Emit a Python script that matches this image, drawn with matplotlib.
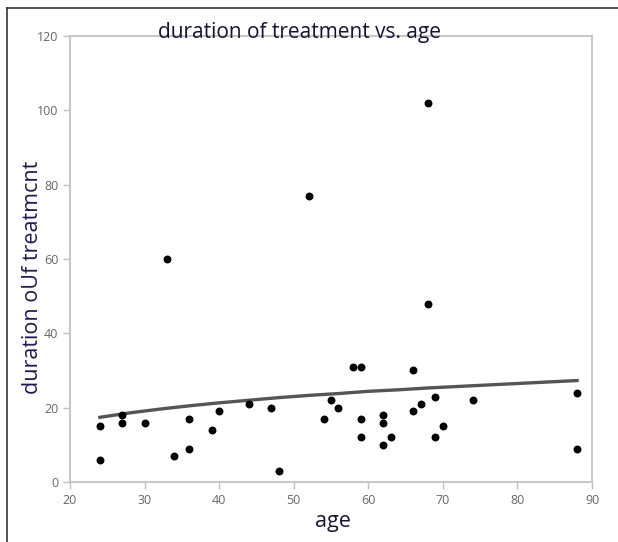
import numpy as np
import matplotlib.pyplot as plt
from matplotlib.lines import Line2D

# Data
age = [24, 24, 27, 27, 30, 33, 34, 36, 36, 39, 40, 44, 47, 48, 52, 54, 55, 56,
       58, 59, 59, 59, 62, 62, 62, 63, 66, 66, 67, 68, 68, 69, 69, 70, 74, 88, 88]
duration = [15, 6, 18, 16, 16, 60, 7, 17, 9, 14, 19, 21, 20, 3, 77, 17, 22, 20,
            31, 31, 17, 12, 18, 16, 10, 12, 30, 19, 21, 102, 48, 23, 12, 15, 22, 24, 9]

# fitted curve, read at a few ages
fit_age = [24, 28, 32, 36, 40, 44, 48, 52, 56, 60, 64, 68, 72, 76, 80, 84, 88]
fit_dur = [17.4, 18.6, 19.6, 20.5, 21.3, 22.0, 22.7, 23.3, 23.8, 24.4, 24.8, 25.3,
           25.7, 26.1, 26.5, 26.9, 27.3]

xticks = [20, 30, 40, 50, 60, 70, 80, 90]
yticks = [0, 20, 40, 60, 80, 100, 120]

plt.rcParams['font.family'] = ['Open Sans', 'DejaVu Sans']

fig = plt.figure(figsize=(6.18, 5.42), dpi=100)
ax = fig.add_axes([0.1133, 0.1107, 0.8447, 0.8229])

ax.plot(fit_age, fit_dur, color='#555555', lw=2.4, zorder=2)
ax.scatter(age, duration, s=22, color='black', zorder=3)

ax.set_xlim(20, 90)
ax.set_ylim(0, 120)
ax.set_xticks(xticks)
ax.set_yticks(yticks)
for sp in ax.spines.values():
    sp.set_color('#c8c8c8')
    sp.set_linewidth(1.5)
ax.tick_params(colors='#c0c0c0', labelcolor='#666666', labelsize=9, length=5, width=1)

# titles and labels placed like the screenshot
fig.text(0.485, 0.940, 'duration of treatment vs. age', ha='center', va='center',
         fontsize=15, color='#151530')
fig.text(0.052, 0.489, 'duration oUf treatmcnt', ha='center', va='center',
         rotation=90, fontsize=15.5, color='#1c1c50')
fig.text(0.539, 0.037, 'age', ha='center', va='center', fontsize=15.5, color='#151530')

# screenshot frame
fig.add_artist(Line2D([0.011, 0.011], [0, 0.985], color='#333333', lw=1.2, transform=fig.transFigure))
fig.add_artist(Line2D([0.011, 1.0], [0.985, 0.985], color='#333333', lw=1.2, transform=fig.transFigure))

fig.savefig('out.png', dpi=100)
